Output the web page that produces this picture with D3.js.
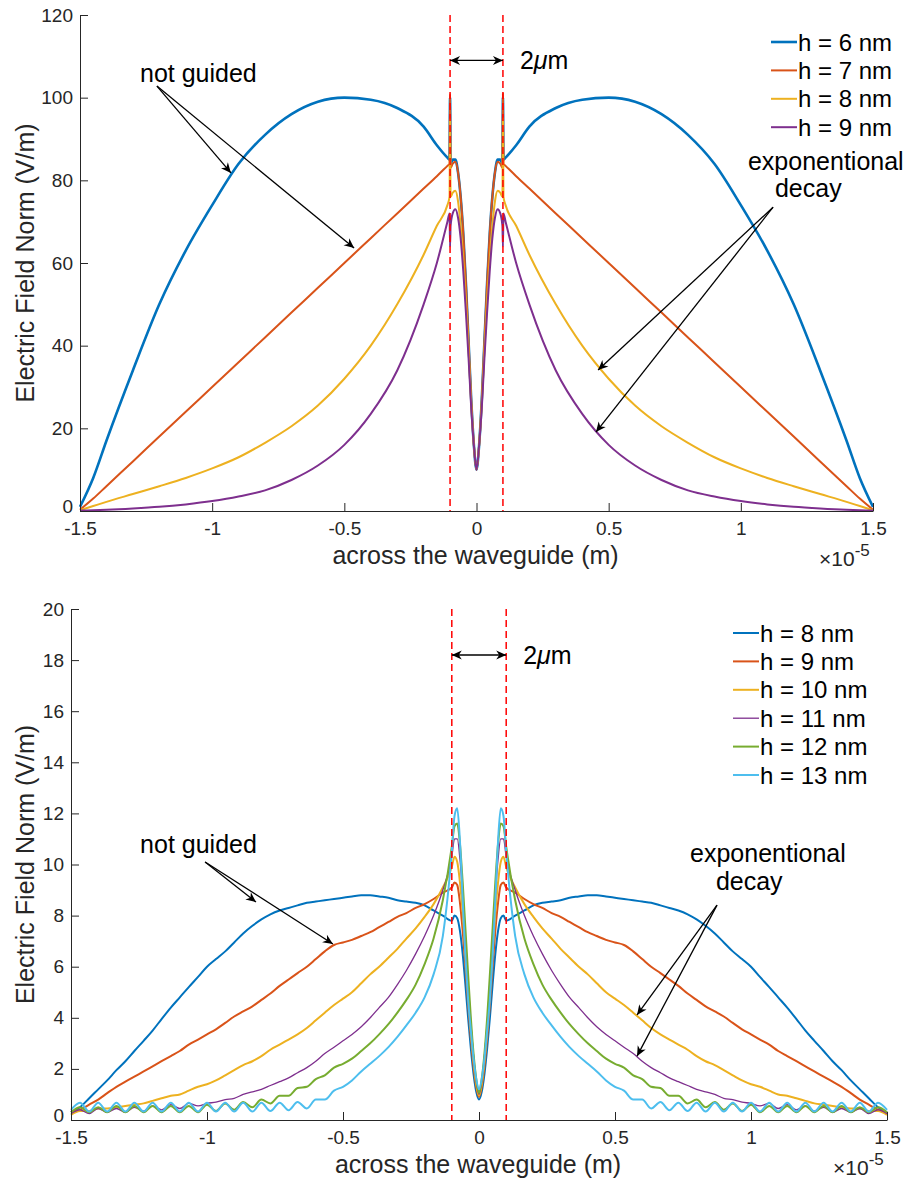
<!DOCTYPE html>
<html>
<head>
<meta charset="utf-8">
<script src="https://cdn.jsdelivr.net/npm/d3@7"></script>
<style>
  body { margin: 0; background: #fff; }
  svg { display: block; font-family: "Liberation Sans", Arial, Helvetica, sans-serif; }
</style>
</head>
<body>
<div id="chart"></div>
<script>
// x positions are in units of 1e-5 m, only the right half (curves are symmetric)
const xTop = [0, 0.01, 0.02, 0.03, 0.04, 0.05, 0.06, 0.07, 0.08, 0.09, 0.098, 0.1, 0.102, 0.11,
  0.15, 0.2, 0.3, 0.4, 0.5, 0.6, 0.7, 0.8, 0.9, 1.0, 1.1, 1.2, 1.3, 1.4, 1.45, 1.5];
const topH6 = [10, 16, 27, 41, 55, 67, 76, 82, 85, 85, 84, 100, 85, 85.5,
  88.5, 93, 97.5, 99.5, 100, 99, 96, 91, 84, 74, 63, 50, 34, 17, 8, 1];
const topH7 = [10, 16, 27, 41, 55, 67, 76, 82, 84.5, 84, 83, 101, 84, 83.5,
  81, 78, 72, 66, 60, 54, 48, 42, 36, 30, 24, 18, 12, 6, 3, 0.3];
const topH8 = [10, 16, 26, 39, 51, 61, 69, 75, 77.5, 77, 76, 95, 76, 74,
  69, 62, 50, 40, 32, 25.5, 20.5, 16.5, 13, 10.3, 8, 6, 4.1, 2.2, 1.2, 0.2];
const topH9 = [10, 16, 25, 37, 48, 58, 66, 71, 73, 72, 69, 64, 72, 70,
  60, 50, 34, 23.5, 16, 11, 7.5, 5, 3.5, 2.4, 1.6, 1.0, 0.6, 0.3, 0.2, 0.1];

const xBot = [0, 0.01, 0.02, 0.03, 0.04, 0.05, 0.06, 0.07, 0.08, 0.09,
  0.1, 0.133, 0.167, 0.2, 0.233, 0.267, 0.3, 0.333, 0.367, 0.4,
  0.433, 0.467, 0.5, 0.533, 0.567, 0.6, 0.633, 0.667, 0.7, 0.733,
  0.767, 0.8, 0.833, 0.867, 0.9, 0.933, 0.967, 1.0, 1.033, 1.067,
  1.1, 1.133, 1.167, 1.2, 1.233, 1.267, 1.3, 1.333, 1.367, 1.4,
  1.433, 1.467, 1.5];
const botH8 = [0.8, 1.1, 1.8, 2.8, 4.0, 5.3, 6.5, 7.4, 7.9, 8.0,
  7.8, 8.0, 8.2, 8.4, 8.5, 8.55, 8.6, 8.7, 8.75, 8.8,
  8.8, 8.75, 8.7, 8.65, 8.6, 8.55, 8.5, 8.4, 8.3, 8.2,
  8.05, 7.85, 7.6, 7.3, 6.95, 6.6, 6.3, 6.0, 5.6, 5.2,
  4.8, 4.4, 3.95, 3.5, 3.1, 2.7, 2.3, 1.95, 1.55, 1.2,
  0.85, 0.5, 0.3];
const botH9 = [0.9, 1.3, 2.1, 3.2, 4.5, 6.0, 7.4, 8.5, 9.2, 9.3,
  9.1, 8.9, 8.65, 8.45, 8.3, 8.1, 7.95, 7.75, 7.55, 7.35,
  7.2, 7.05, 6.95, 6.85, 6.6, 6.3, 6.0, 5.75, 5.5, 5.25,
  4.95, 4.7, 4.45, 4.25, 4.05, 3.8, 3.55, 3.35, 3.15, 2.95,
  2.7, 2.5, 2.3, 2.1, 1.9, 1.7, 1.5, 1.3, 1.05, 0.8,
  0.6, 0.4, 0.3];
const botH10 = [0.95, 1.4, 2.3, 3.5, 5.0, 6.6, 8.1, 9.3, 10.1, 10.3,
  9.9, 9.1, 8.45, 7.95, 7.5, 7.1, 6.7, 6.35, 6.0, 5.7,
  5.35, 5.0, 4.75, 4.5, 4.2, 3.9, 3.6, 3.35, 3.15, 2.95,
  2.75, 2.5, 2.3, 2.15, 1.95, 1.75, 1.55, 1.4, 1.3, 1.15,
  1.0, 0.95, 0.85, 0.75, 0.65, 0.6, 0.55, 0.5, 0.45, 0.45,
  0.35, 0.35, 0.2];
const botH11 = [1.0, 1.5, 2.5, 3.8, 5.4, 7.1, 8.8, 10.2, 11.0, 11.0,
  10.3, 9.0, 8.0, 7.2, 6.5, 5.85, 5.3, 4.8, 4.4, 4.0,
  3.65, 3.35, 3.1, 2.85, 2.6, 2.3, 2.05, 1.85, 1.65, 1.5,
  1.35, 1.2, 1.1, 1.0, 0.85, 0.8, 0.7, 0.65, 0.55, 0.65,
  0.45, 0.6, 0.4, 0.55, 0.35, 0.5, 0.3, 0.45, 0.3, 0.45,
  0.25, 0.4, 0.25];
const botH12 = [1.05, 1.6, 2.6, 4.0, 5.7, 7.5, 9.3, 10.8, 11.6, 11.5,
  10.7, 8.6, 7.1, 6.1, 5.3, 4.7, 4.2, 3.75, 3.35, 3.0,
  2.7, 2.4, 2.2, 2.05, 1.75, 1.6, 1.3, 1.25, 0.95, 0.95,
  0.65, 0.8, 0.5, 0.7, 0.4, 0.65, 0.35, 0.6, 0.3, 0.55,
  0.3, 0.55, 0.3, 0.55, 0.3, 0.55, 0.3, 0.55, 0.3, 0.5,
  0.3, 0.5, 0.3];
const botH13 = [1.2, 1.6, 2.4, 3.5, 4.7, 6.4, 8.6, 10.9, 12.2, 11.9,
  10.5, 7.2, 5.7, 4.8, 4.2, 3.7, 3.25, 2.85, 2.5, 2.2,
  1.9, 1.55, 1.3, 1.15, 0.8, 0.8, 0.45, 0.7, 0.38, 0.68,
  0.35, 0.68, 0.33, 0.68, 0.33, 0.68, 0.33, 0.68, 0.33, 0.68,
  0.33, 0.68, 0.33, 0.68, 0.33, 0.68, 0.33, 0.68, 0.33, 0.68,
  0.33, 0.68, 0.4];

const topLabels = ["h = 6 nm", "h = 7 nm", "h = 8 nm", "h = 9 nm"];
const botLabels = ["h = 8 nm", "h = 9 nm", "h = 10 nm", "h = 11 nm", "h = 12 nm", "h = 13 nm"];
const colors = ["#0072BD", "#D95319", "#EDB120", "#7E2F8E", "#77AC30", "#4DBEEE"];
const xTicks = [-1.5, -1, -0.5, 0, 0.5, 1, 1.5];
const coreEdge = 0.1;   // waveguide edges at +-1 um

const W = 904, H = 1181;
const svg = d3.select("#chart").append("svg").attr("width", W).attr("height", H);

const axisColor = "#262626";

// mirror the half-profile into a full curve
function mirror(xs, ys) {
  let pts = [];
  for (let i = xs.length - 1; i > 0; i--) pts.push([-xs[i], ys[i]]);
  for (let i = 0; i < xs.length; i++) pts.push([xs[i], ys[i]]);
  return pts;
}

function arrowHead(g, x1, y1, x2, y2) {
  const a = Math.atan2(y2 - y1, x2 - x1);
  const L = 10, Wd = 4.5, back = 7;
  const p = (d, s) => [x2 - d * Math.cos(a) - s * Math.sin(a), y2 - d * Math.sin(a) + s * Math.cos(a)];
  const pts = [[x2, y2], p(L, Wd), p(back, 0), p(L, -Wd)];
  g.append("path").attr("d", "M" + pts.map(q => q.join(",")).join("L") + "Z").attr("fill", "#000");
}

function arrow(g, x1, y1, x2, y2, both) {
  g.append("line").attr("x1", x1).attr("y1", y1).attr("x2", x2).attr("y2", y2)
    .attr("stroke", "#000").attr("stroke-width", 1.3);
  arrowHead(g, x1, y1, x2, y2);
  if (both) arrowHead(g, x2, y2, x1, y1);
}

function panel(cfg) {
  const x = d3.scaleLinear().domain([-1.5, 1.5]).range(cfg.xr);
  const y = d3.scaleLinear().domain(cfg.yd).range(cfg.yr);
  const g = svg.append("g");

  const line = d3.line().x(d => x(d[0])).y(d => y(d[1])).curve(d3.curveMonotoneX);
  cfg.series.forEach((s, i) => {
    g.append("path").datum(mirror(cfg.xs, s))
      .attr("fill", "none")
      .attr("stroke", colors[i])
      .attr("stroke-width", cfg.widths[i])
      .attr("stroke-linejoin", "round")
      .attr("d", line);
  });

  // axes (MATLAB style, ticks inward, no box)
  const xa = g.append("g").attr("transform", `translate(0,${cfg.yr[0]})`)
    .call(d3.axisBottom(x).tickValues(xTicks).tickFormat(d => String(d))
      .tickSizeInner(-8).tickSizeOuter(0).tickPadding(11));
  const ya = g.append("g").attr("transform", `translate(${cfg.xr[0]},0)`)
    .call(d3.axisLeft(y).tickValues(cfg.yTicks).tickFormat(d => String(d))
      .tickSizeInner(-8).tickSizeOuter(0).tickPadding(7));
  [xa, ya].forEach(a => {
    a.select(".domain").attr("stroke", axisColor);
    a.selectAll(".tick line").attr("stroke", axisColor);
    a.selectAll(".tick text").attr("fill", axisColor).style("font-size", "19px")
      .style("font-family", "'Liberation Sans', Arial, sans-serif");
  });
  // lift the bottom y label a little so it clears the first x label
  ya.selectAll(".tick text").filter(d => d === 0).attr("dy", "0.1em");

  // waveguide edges
  [-coreEdge, coreEdge].forEach(v => {
    g.append("line").attr("x1", x(v)).attr("x2", x(v))
      .attr("y1", cfg.yr[1]).attr("y2", cfg.yr[0])
      .attr("stroke", "#FF0000").attr("stroke-width", 1.5)
      .attr("stroke-dasharray", "7,4");
  });

  // labels
  g.append("text").attr("x", (cfg.xr[0] + cfg.xr[1]) / 2 - 1).attr("y", cfg.yr[0] + 53)
    .attr("text-anchor", "middle").attr("fill", axisColor).style("font-size", "25px")
    .text("across the waveguide (m)");
  g.append("text").attr("transform", `translate(34,${(cfg.yr[0] + cfg.yr[1]) / 2}) rotate(-90)`)
    .attr("text-anchor", "middle").attr("fill", axisColor).style("font-size", "25px")
    .text("Electric Field Norm (V/m)");
  const ex = g.append("text").attr("x", cfg.xr[1] - 54).attr("y", cfg.yr[0] + 55)
    .attr("fill", axisColor).style("font-size", "21px");
  ex.append("tspan").text("\u00d710");
  ex.append("tspan").attr("dy", -10).style("font-size", "17px").text("-5");

  // width marker
  const ay = y(cfg.markY);
  arrow(g, x(-coreEdge), ay, x(coreEdge), ay, true);
  const mt = g.append("text").attr("x", x(coreEdge) + 17).attr("y", ay + 9).style("font-size", "25px");
  mt.append("tspan").text("2");
  mt.append("tspan").style("font-style", "italic").text("\u03bc");
  mt.append("tspan").text("m");

  // annotations
  const ng = cfg.notGuided;
  g.append("text").attr("x", x(ng.text[0])).attr("y", y(ng.text[1])).style("font-size", "25px").text("not guided");
  ng.tips.forEach(t => arrow(g, x(ng.from[0]), y(ng.from[1]), x(t[0]), y(t[1])));
  const ed = cfg.decay;
  g.append("text").attr("x", x(ed.text[0])).attr("y", y(ed.text[1])).style("font-size", "25px").text("exponentional");
  g.append("text").attr("x", x(ed.text2[0])).attr("y", y(ed.text2[1])).style("font-size", "25px").text("decay");
  ed.tips.forEach(t => arrow(g, x(ed.from[0]), y(ed.from[1]), x(t[0]), y(t[1])));

  // legend
  cfg.labels.forEach((lab, i) => {
    const ly = cfg.legY + i * 28.4;
    g.append("line").attr("x1", cfg.legX).attr("x2", cfg.legX + 26).attr("y1", ly).attr("y2", ly)
      .attr("stroke", colors[i]).attr("stroke-width", cfg.widths[i]);
    g.append("text").attr("x", cfg.legX + 27).attr("y", ly + 8.5).style("font-size", "24px").text(lab);
  });
}

panel({
  xr: [80, 873], yr: [511, 15], yd: [0, 120], yTicks: d3.range(0, 121, 20),
  xs: xTop, series: [topH6, topH7, topH8, topH9], widths: [2.6, 2, 2, 2],
  labels: topLabels, legX: 771, legY: 42, markY: 109,
  notGuided: { text: [-1.273, 103.9], from: [-1.209, 102.8], tips: [[-0.929, 81.8], [-0.463, 63.6]] },
  decay: { text: [1.027, 82.5], text2: [1.129, 76], from: [1.122, 73.5], tips: [[0.46, 34.1], [0.452, 19.1]] }
});

panel({
  xr: [71, 887], yr: [1120, 609], yd: [0, 20], yTicks: d3.range(0, 21, 2),
  xs: xBot, series: [botH8, botH9, botH10, botH11, botH12, botH13], widths: [2, 2, 2, 1.3, 2, 2],
  labels: botLabels, legX: 733, legY: 633, markY: 18.2,
  notGuided: { text: [-1.246, 10.45], from: [-1.007, 10.1], tips: [[-0.82, 8.53], [-0.537, 6.89]] },
  decay: { text: [0.776, 10.1], text2: [0.871, 9.0], from: [0.875, 8.41], tips: [[0.581, 4.11], [0.581, 2.5]] }
});
</script>
</body>
</html>
